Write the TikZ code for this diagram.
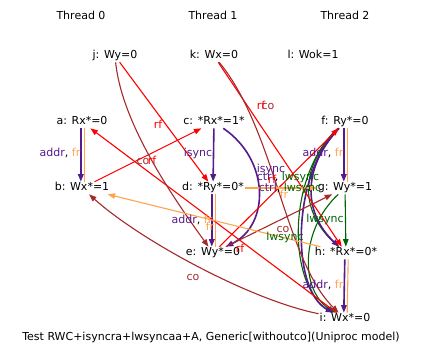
\documentclass[tikz,border=0pt]{standalone}
\usepackage{fontspec}
\setmainfont{DejaVu Sans}
\usetikzlibrary{arrows.meta,positioning}
\definecolor{purp}{RGB}{85,26,139}
\definecolor{orng}{RGB}{255,165,79}
\definecolor{brwn}{RGB}{165,42,42}
\definecolor{grn}{RGB}{0,100,0}
\begin{document}
\begin{tikzpicture}[x=1pt,y=-1pt,inner sep=1pt]
  \useasboundingbox (0,0) rectangle (423,361);
  \tikzstyle{v}=[text height=8pt,text depth=2.2pt]\fontsize{11}{13}\selectfont
  \node[v](t0)at(81,17){Thread 0};
  \node[v](t1)at(213,17){Thread 1};
  \node[v](t2)at(345,17){Thread 2};
  \node[v](j)at(115,56){j: Wy=0};
  \node[v](k)at(214,56){k: Wx=0};
  \node[v](l)at(313,56){l: Wok=1};
  \node[v](a)at(82,122){a: Rx*=0};
  \node[v](b)at(82,188){b: Wx*=1};
  \node[v](c)at(214,122){c: *Rx*=1*};
  \node[v](d)at(213,188){d: *Ry*=0*};
  \node[v](e)at(213,253){e: Wy*=0};
  \node[v](f)at(345,122){f: Ry*=0};
  \node[v](g)at(345,188){g: Wy*=1};
  \node[v](h)at(346,253){h: *Rx*=0*};
  \node[v](i)at(345,319){i: Wx*=0};
  \node[v](cap)at(211,338){Test RWC+isyncra+lwsyncaa+A, Generic[withoutco](Uniproc model)};
  \tikzstyle{e}=[-{Triangle[length=7.5pt,width=5.5pt]},line width=1.1pt]
  \tikzstyle{pe}=[e,purp,line width=1.6pt]
  % po-like edges, addr + fr side by side
  \foreach\o/\d in{a/b,d/e,f/g,h/i}{
    \draw[orng,line width=1.1pt]([xshift=2.2]\o.south)--([xshift=2.2]\d.north);
    \draw[pe]([xshift=-1.2]\o.south)--([xshift=-1.2]\d.north);}
  \draw[pe](c)--(d);
  \draw[pe](c)..controls(270,160)and(270,225)..(e);
  \draw[e,grn](g)--(h);
  \draw[e,grn](g)..controls(300,230)and(300,290)..(i);
  % ctrl, lwsync
  \draw[grn,line width=1.1pt](f)..controls(296,170)and(301,215)..(h);
  \draw[pe](f)..controls(300,170)and(305,215)..(h);
  \draw[grn,line width=1.1pt](f)..controls(286,175)and(286,290)..(i);
  \draw[pe](f)..controls(291,175)and(291,290)..(i);
  % rf, co, fr
  \foreach\o/\d in{j/d,b/c,k/h,e/f,i/a}{\draw[e,red](\o)--(\d);}
  \draw[e,brwn](e)--(g);
  \draw[e,brwn](j)..controls(122,125)and(175,200)..(e);
  \draw[e,brwn](k)..controls(275,130)and(285,260)..(i);
  \draw[e,brwn](i)..controls(250,300)and(140,240)..(b);
  \foreach\o/\d in{h/b,d/g}{\draw[e,orng](\o)--(\d);}
  % labels
  \tikzstyle{af}=[v,inner sep=0pt]
  \foreach\p in{(60,154),(192,221),(323,154),(323,286)}{\node[af]at\p{\textcolor{purp}{addr}, \textcolor{orng}{fr}};}
  \node[af,purp](isy1)at(198,154){isync};
  \node[af,purp](isy2)at(271,170){isync};
  \node[af](cl1)at(288,178){\textcolor{purp}{ctrl}, \textcolor{grn}{lwsync}};
  \node[af](cl2)at(290,189){\textcolor{purp}{ctrl}, \textcolor{grn}{lwsync}};
  \node[af,grn](lw1)at(325,220){lwsync};
  \node[af,grn](lw2)at(285,238){lwsync};
  \foreach\p in{(143,162),(268,107),(283,230),(193,278)}{\node[af,brwn]at\p{co};}
  \foreach\p in{(158,126),(152,162),(261,107),(272,181),(240,250)}{\node[af,red]at\p{rf};}
  \foreach\p in{(210,228),(284,196)}{\node[af,orng]at\p{fr};}
\end{tikzpicture}
\end{document}
